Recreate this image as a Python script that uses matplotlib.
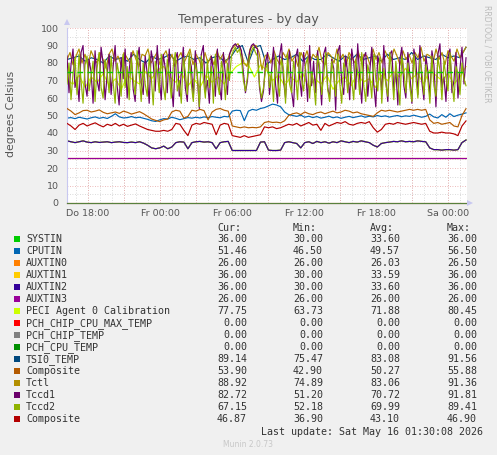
import numpy as np
import matplotlib
matplotlib.use('Agg')
import matplotlib.pyplot as plt
from matplotlib.patches import Rectangle, Polygon

# ---------------- data ----------------
T_END = 33.25  # hours covered by data (from Do 16:15)
tick_pos = [1.75, 7.75, 13.75, 19.75, 25.75, 31.75]
tick_labels = ["Do 18:00", "Fr 00:00", "Fr 06:00", "Fr 12:00", "Fr 18:00", "Sa 00:00"]

auxtin2 = [35.5, 35.0, 34.5, 35.0, 35.5, 34.8, 34.5, 35.0, 34.6, 34.8, 35.0, 34.5, 34.8, 35.0, 34.6,
           34.5, 34.8, 34.5, 35.0, 34.2, 33.0,
           31.5, 31.0, 31.5, 32.5, 31.0, 32.0, 34.5, 35.0, 34.8, 31.0, 34.5, 35.0, 35.2, 34.8, 35.0,
           34.5, 31.0, 34.5, 35.0, 35.2,
           30.0, 30.0, 30.0, 30.0, 30.0, 30.0, 30.0,
           34.8, 35.0,
           30.2, 30.0, 30.0, 30.2,
           34.5, 35.0, 34.5, 34.0, 31.5, 34.5, 35.0, 34.0, 35.2, 34.5, 35.0, 34.2, 35.0, 34.5, 35.5,
           35.0, 34.5, 35.2, 34.8, 35.5, 35.0, 34.5,
           33.0, 32.0, 34.0, 34.5, 34.8, 35.2, 35.0, 35.5, 35.0, 35.2, 35.0, 35.5, 35.2, 35.0,
           31.5, 30.5, 30.5, 30.2, 30.5, 30.5, 30.2, 30.5, 34.5, 36.0]
systin = auxtin2   # identical readings, hidden below AUXTIN2
auxtin1 = auxtin2
auxtin0 = [26.0, 26.0]
auxtin3 = [26.0, 26.0]
pch_zero = [0.0, 0.0]

cputin = [48.5, 48.8, 48.2, 49.0, 48.5, 48.0, 48.7, 49.2, 48.4, 48.9, 48.3, 49.5, 51.0, 49.2, 48.6,
          48.8, 49.4, 48.7, 49.0, 48.4, 47.8, 47.0, 46.6,
          47.5, 48.2, 48.0, 49.0, 48.4, 47.6, 48.2, 48.8, 48.5, 49.0, 48.6, 49.2, 48.8, 49.4, 49.0,
          48.7, 49.5, 49.2,
          52.5, 53.0, 52.8, 47.0, 52.5, 53.5, 53.0, 54.0, 54.5, 55.5,
          56.5, 56.0, 55.0, 52.0, 50.5, 50.0, 49.5, 50.2, 49.0, 49.6,
          48.8, 49.4, 48.5, 49.0, 49.6, 48.7, 49.2, 48.4, 49.0, 49.5, 48.8, 49.3, 49.8, 49.0, 49.6,
          49.2, 50.0, 49.4, 49.8, 49.1, 49.6, 50.0, 49.3, 49.8, 49.5, 50.2, 49.6, 49.0, 49.5, 50.8,
          49.2, 48.6, 50.5, 49.0, 51.0, 49.4, 50.2, 50.8, 51.5]

peci = [70, 68, 73, 66, 72, 69, 74, 67, 71, 65, 73, 70, 68, 75, 71, 76, 78, 72, 69, 74, 67, 71, 66,
        73, 69, 72, 68, 74,
        78, 80, 79, 72, 79, 76,
        70, 73, 67, 72, 69, 74, 66, 71, 68, 73, 65, 70, 72, 67, 74, 69, 71, 66, 73, 70, 75, 72, 77,
        71, 74, 68, 76, 73, 70, 74, 68, 72, 78]

tsi0 = [82, 83, 84, 81, 83, 82, 80, 84, 82, 83, 81, 85, 82, 80, 84, 82, 83, 85, 81, 83, 84, 82, 83,
        80, 83, 84, 81, 83,
        88, 90, 80, 89, 90, 79,
        82, 84, 82, 83, 85, 81, 84, 82, 82, 85, 83, 81, 84, 82, 85, 82, 83, 84, 81, 85, 82, 83, 82,
        86, 82, 84, 83, 82, 85, 83, 84, 83, 89]

composite1 = [54.0, 52.5, 50.5, 51.5, 52.8, 53.0, 52.0, 52.5, 53.2, 51.8, 51.0,
              51.5, 52.0, 51.2, 52.5, 51.8, 50.8, 51.5, 52.2, 51.0, 49.5, 48.0, 47.2,
              46.5, 47.5, 48.0, 52.0, 53.0, 52.5, 48.5,
              49.5, 53.0, 52.5, 53.5, 52.8, 47.5, 52.0, 53.5, 54.0, 53.0, 52.5,
              44.0, 43.5, 43.0, 43.5, 43.0, 43.2, 43.0, 43.5,
              46.0, 46.5, 46.0, 46.2, 45.8, 47.0,
              50.0, 51.0, 51.5, 50.5, 52.0, 51.0, 50.5, 51.5, 52.0, 51.0, 51.8, 52.5, 51.5, 52.0,
              53.0, 52.5, 51.5, 52.0, 51.0, 50.5, 50.0,
              49.5, 51.5, 53.0, 52.5, 53.0, 52.5, 52.0, 52.5, 53.0, 53.5, 53.0, 53.5, 53.0, 53.5,
              47.5, 45.5, 46.0, 45.0, 45.5, 46.0, 44.0, 43.5, 50.0, 53.9]

tctl = [82, 86, 79, 84, 88, 80, 85, 78, 87, 83, 80, 86, 82, 77, 85, 88, 81, 84, 79, 86, 83, 80, 87,
        82, 78, 85, 84, 88, 80, 83, 86, 79, 84, 87, 81, 85, 78, 83, 86, 80, 84, 88, 79, 85, 82, 77,
        86, 80, 84, 79, 87, 82, 85, 80, 84,
        88, 90, 91, 87, 80, 78, 88, 90, 90, 86, 76, 84,
        85, 80, 87, 82, 79, 86, 83, 88, 81, 84, 78, 86, 82, 87, 80, 85, 83, 89, 81, 79, 86, 84, 80,
        88, 82, 85, 78, 86, 83, 80, 87, 81, 85, 84, 79, 88, 82, 86, 80, 87, 83, 81, 88, 84, 79, 87,
        82, 85, 80, 86, 83, 89, 81, 85, 84, 80, 88, 82, 86, 79, 87, 84, 81, 88, 83, 86, 89]

tccd1 = [84, 63, 79, 88, 66, 72, 58, 86, 90, 68, 61, 82, 75, 57, 87, 70, 64, 89, 80, 59,
         73, 85, 62, 78, 90, 67, 56, 83, 71, 88, 60, 76, 86, 65, 58, 81, 89, 69, 62, 84,
         74, 57, 87, 80, 64, 90, 71, 59, 85, 77, 63, 88, 68, 55, 82, 86, 61, 74, 89, 66,
         58, 83, 78, 60, 87, 72, 54, 85, 90, 63, 70, 57, 84, 76, 61, 88, 67, 59, 86, 73,
         62, 85,
         88, 90, 91, 89, 90, 87, 74, 63, 70, 86, 90, 91, 89, 88, 66, 58, 64, 80,
         86, 62, 75, 89, 68, 57, 84, 91, 70, 60, 79, 87, 64, 55, 83, 88, 72, 61, 86, 76,
         58, 90, 67, 81, 63, 87, 73, 56, 85, 89, 66, 60, 82, 77, 53, 86, 90, 69, 62, 84,
         74, 59, 88, 80, 65, 91, 71, 57, 83, 86, 61, 75, 89, 68, 55, 84, 78, 63, 90, 70,
         58, 85, 87, 64, 76, 56, 82, 89, 67, 60, 86, 73, 57, 88, 81, 62, 90, 69, 59, 84,
         75, 61, 87, 79, 55, 85, 91, 66, 72, 58, 83, 88, 63, 70, 86, 60, 77, 89, 68, 83]

tccd2 = [68, 80, 59, 74, 83, 62, 85, 70, 57, 79, 84, 64, 72, 81, 58, 77, 86, 66, 60, 82,
         75, 63, 84, 69, 57, 80, 73, 61, 85, 66, 78, 59, 83, 71, 62, 87, 74, 58, 80, 68,
         61, 84, 72, 56, 81, 76, 63, 85, 67, 59, 82, 73, 60, 78, 86, 64, 70, 57, 83, 75,
         62, 86, 68, 58, 80, 74, 55, 84, 71, 60, 82, 66, 78, 57, 85, 69, 62, 81, 74, 59,
         80, 70,
         84, 87, 89, 86, 88, 82, 70, 64, 72, 83, 87, 89, 86, 84, 68, 60, 66, 76,
         80, 66, 74, 58, 84, 70, 61, 82, 76, 57, 85, 68, 63, 81, 73, 59, 86, 71, 64, 79,
         83, 60, 75, 69, 56, 84, 78, 62, 72, 86, 65, 58, 81, 74, 61, 85, 69, 57, 80, 76,
         63, 84, 70, 59, 82, 75, 62, 86, 67, 58, 79, 73, 60, 85, 71, 64, 83, 57, 77, 68,
         61, 86, 74, 59, 81, 69, 56, 84, 76, 63, 80, 66, 58, 85, 72, 60, 82, 75, 62, 79,
         70, 57, 84, 67, 61, 83, 76, 59, 81, 72, 64, 86, 69, 58, 78, 74, 62, 80, 71, 67]

composite2 = [45.5, 44.0, 42.0, 44.5, 45.5, 44.0, 45.0, 45.8, 44.5, 43.5, 45.0, 44.2, 45.5, 44.0, 45.0,
              43.8, 44.5, 45.2, 44.0, 43.0, 42.0, 41.5, 41.0,
              41.0, 41.5, 41.0, 42.0, 45.5, 45.0, 41.5, 38.5, 44.5, 45.5, 45.0, 46.0, 45.5, 45.0, 39.0,
              44.5, 45.5, 45.0,
              38.5, 38.0, 37.5, 38.5, 37.5, 38.0, 38.5, 39.0,
              43.5, 43.0, 43.5, 42.5, 43.0, 44.0,
              45.0, 44.5, 45.5, 44.0, 45.0, 46.0, 44.5, 45.0, 41.5, 45.5, 44.0, 45.0, 46.0, 45.5, 46.5,
              45.0, 44.5, 45.5, 46.0, 45.5, 46.5,
              43.0, 40.5, 42.0, 45.0, 45.5, 45.0, 46.0, 45.5, 45.0, 45.5, 46.0, 45.5, 45.0, 45.5,
              41.0, 40.0, 40.0, 40.5, 40.0, 40.0, 39.5, 38.5, 44.0, 46.9]

warn_level = 75

labels = ["SYSTIN", "CPUTIN", "AUXTIN0", "AUXTIN1", "AUXTIN2", "AUXTIN3",
          "PECI Agent 0 Calibration", "PCH_CHIP_CPU_MAX_TEMP", "PCH_CHIP_TEMP", "PCH_CPU_TEMP",
          "TSI0_TEMP", "Composite", "Tctl", "Tccd1", "Tccd2", "Composite"]
colors = ["#00CC00", "#0066B3", "#FF8000", "#FFCC00", "#330099", "#990099", "#CCFF00", "#FF0000",
          "#808080", "#008F00", "#00487D", "#B35A00", "#B38F00", "#6B006B", "#8FB300", "#B30000"]
series = [systin, cputin, auxtin0, auxtin1, auxtin2, auxtin3, peci, pch_zero, pch_zero, pch_zero,
          tsi0, composite1, tctl, tccd1, tccd2, composite2]
cur_vals = [36.00, 51.46, 26.00, 36.00, 36.00, 26.00, 77.75, 0.00, 0.00, 0.00, 89.14, 53.90, 88.92, 82.72, 67.15, 46.87]
min_vals = [30.00, 46.50, 26.00, 30.00, 30.00, 26.00, 63.73, 0.00, 0.00, 0.00, 75.47, 42.90, 74.89, 51.20, 52.18, 36.90]
avg_vals = [33.60, 49.57, 26.03, 33.59, 33.60, 26.00, 71.88, 0.00, 0.00, 0.00, 83.08, 50.27, 83.06, 70.72, 69.99, 43.10]
max_vals = [36.00, 56.50, 26.50, 36.00, 36.00, 26.00, 80.45, 0.00, 0.00, 0.00, 91.56, 55.88, 91.36, 91.81, 89.41, 46.90]

# ---------------- figure ----------------
W, H = 497, 455
fig = plt.figure(figsize=(W / 100, H / 100), dpi=100, facecolor='#f0f0f0')


def fx(px):
    return px / W


def fy(py):
    return 1 - py / H


ax = fig.add_axes([fx(67), fy(203), 400 / W, 175 / H])
ax.set_facecolor('white')
ax.set_xlim(0, 400 / 12)
ax.set_ylim(0, 100)

# grid
for v in np.arange(0.75, 33.4, 1.0):
    ax.axvline(v, color='#cfcfcf', lw=0.6, ls=(0, (1, 2)), zorder=0)
for v in np.arange(1.75, 33.4, 3.0):
    ax.axvline(v, color='#e7a3a3', lw=0.6, ls=(0, (1, 2)), zorder=0.5)
for v in np.arange(5, 100, 10):
    ax.axhline(v, color='#cfcfcf', lw=0.6, ls=(0, (1, 2)), zorder=0)
for v in np.arange(10, 101, 10):
    ax.axhline(v, color='#e7a3a3', lw=0.6, ls=(0, (1, 2)), zorder=0.5)

for i, (vals, c) in enumerate(zip(series, colors)):
    t = np.linspace(0, T_END, len(vals))
    zero_line = i in (7, 8, 9)
    ax.plot(t, vals, color=c, lw=0.85, zorder=2 + i * 0.1, clip_on=not zero_line,
            alpha=0.5 if zero_line else 1.0)

ax.axhline(warn_level, color='#00CC00', lw=1.0, dashes=(4.0, 3.2), zorder=4)

for s in ['top', 'right']:
    ax.spines[s].set_visible(False)
ax.spines['left'].set_color('#c8c8f0')
ax.spines['bottom'].set_color('#c8c8f0')
ax.spines['left'].set_linewidth(0.8)
ax.spines['bottom'].set_linewidth(0.6)
ax.set_axisbelow(True)

ax.set_xticks(tick_pos)
ax.set_xticklabels(tick_labels)
ax.set_yticks(np.arange(0, 101, 10))
ax.tick_params(length=0, labelsize=6.8, colors='#555555', pad=4)
ax.tick_params(axis='y', pad=6)

# axis arrows
fig.add_artist(Polygon([(fx(64), fy(25)), (fx(70), fy(25)), (fx(67), fy(19))],
                       closed=True, transform=fig.transFigure, color='#c8c8f0', lw=0))
fig.add_artist(Polygon([(fx(467), fy(200)), (fx(467), fy(206)), (fx(473), fy(203))],
                       closed=True, transform=fig.transFigure, color='#c8c8f0', lw=0))

# titles
fig.text(fx(248.5), fy(19), "Temperatures - by day", ha='center', va='center',
         fontsize=9, color='#555555')
fig.text(fx(11), fy(114), "degrees Celsius", ha='center', va='center', rotation=90,
         fontsize=7.8, color='#555555')
fig.text(fx(487), fy(5), "RRDTOOL / TOBI OETIKER", ha='center', va='top', rotation=-90,
         fontsize=5.5, color='#bbbbbb')

# legend
mono = 'DejaVu Sans Mono'
tc = '#333333'
fsz = 7.2
col_right = [247, 323, 400, 477]
col_left = [217, 293, 370, 447]
for name, xl in zip(["Cur:", "Min:", "Avg:", "Max:"], col_left):
    fig.text(fx(xl), fy(228.3), name, ha='left', va='center', family=mono, fontsize=fsz, color=tc)
for i, (lab, c) in enumerate(zip(labels, colors)):
    yc = 239.3 + 12 * i
    fig.add_artist(Rectangle((fx(14), fy(yc + 3)), 6 / W, 6 / H, transform=fig.transFigure,
                             facecolor=c, edgecolor='none'))
    fig.text(fx(26), fy(yc), lab, ha='left', va='center', family=mono, fontsize=fsz, color=tc)
    for vals, xr in zip([cur_vals, min_vals, avg_vals, max_vals], col_right):
        fig.text(fx(xr), fy(yc), "%.2f" % vals[i], ha='right', va='center', family=mono,
                 fontsize=fsz, color=tc)
fig.text(fx(483), fy(431.7), "Last update: Sat May 16 01:30:08 2026", ha='right', va='center',
         family=mono, fontsize=fsz, color=tc)
fig.text(fx(248), fy(444.3), "Munin 2.0.73", ha='center', va='center', fontsize=5.5, color='#c8c8c8')

fig.savefig('out.png', dpi=100, facecolor=fig.get_facecolor())
